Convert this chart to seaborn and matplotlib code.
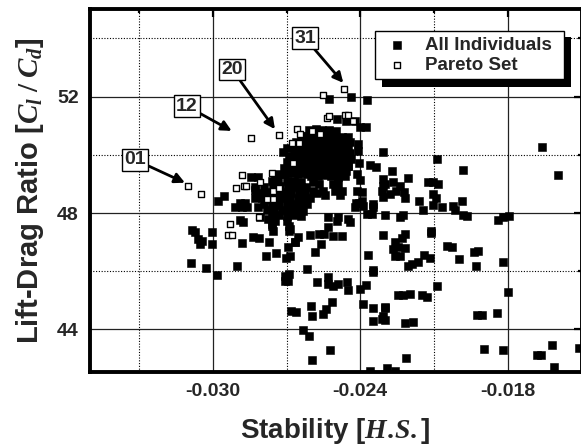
import matplotlib
matplotlib.use("Agg")
import matplotlib.pyplot as plt
from matplotlib.patches import Rectangle
from matplotlib.ticker import FixedLocator
import seaborn as sns
import pandas as pd

# ---------------- data ----------------
scatter_x = [
    -0.01660, -0.01594, -0.02308, -0.02086, -0.01981, -0.02272, -0.02204, -0.02306, -0.02306, -0.02312,
    -0.02265, -0.02238, -0.02254, -0.02222, -0.02218, -0.02123, -0.02103, -0.02082, -0.02103, -0.02092,
    -0.02105, -0.02161, -0.02143, -0.02066, -0.02024, -0.02014, -0.01987, -0.01983, -0.01964, -0.02299,
    -0.02238, -0.02227, -0.01838, -0.01818, -0.01797, -0.02113,
    -0.02308, -0.02218, -0.02231, -0.02258, -0.02265, -0.02258, -0.02238, -0.02245, -0.02218, -0.02113,
    -0.02204, -0.02190, -0.02164, -0.02140, -0.02116, -0.02048, -0.02028, -0.01997, -0.01937, -0.01920,
    -0.01930, -0.01818, -0.02089, -0.01800, -0.02245, -0.02225, -0.02197, -0.02150, -0.02129, -0.02299,
    -0.02306, -0.02299, -0.02218, -0.02184, -0.01926, -0.01906, -0.01842, -0.01896, -0.01818, -0.01621,
    -0.01682, -0.01666, -0.01611, -0.01509, -0.02214, -0.02292, -0.02258,
    -0.03004, -0.03004, -0.03045, -0.02882, -0.02835, -0.02810, -0.02771, -0.02760, -0.02688, -0.02688,
    -0.02652, -0.02665, -0.02604, -0.02566, -0.02547, -0.02509, -0.02475, -0.02530, -0.02561, -0.02584,
    -0.02783, -0.02742, -0.02702, -0.02686, -0.02367, -0.03027, -0.02981, -0.02900, -0.02706, -0.02692,
    -0.02706, -0.02688, -0.02618, -0.02577, -0.02530, -0.02530, -0.02509, -0.02489, -0.02455, -0.02448,
    -0.02401, -0.02376, -0.02349, -0.02349, -0.02683, -0.02661, -0.02601, -0.02597, -0.02539, -0.02553,
    -0.02516, -0.02387, -0.02347, -0.02299, -0.02347, -0.02312, -0.02634, -0.02607, -0.02523, -0.02597,
    -0.02360,
    -0.02526, -0.02439, -0.02374, -0.02496, -0.02458, -0.02421, -0.02401, -0.02376, -0.02408, -0.02408,
    -0.02404, -0.02360, -0.02336, -0.02412, -0.02401, -0.02299, -0.02394, -0.02404, -0.02417, -0.02713,
    -0.02699, -0.02706, -0.02747, -0.02638, -0.02618, -0.02591, -0.02566, -0.02550, -0.02591, -0.02509,
    -0.02489, -0.02475, -0.02502, -0.02462, -0.02448, -0.02374, -0.02347, -0.02489, -0.02448, -0.02441,
    -0.02620, -0.02604, -0.02577, -0.02543, -0.02482, -0.02414, -0.02394, -0.02421, -0.02387, -0.02353,
    -0.02530, -0.02496, -0.02306, -0.02279, -0.02347,
    -0.02977, -0.02953, -0.02909, -0.02889, -0.02869, -0.02862, -0.02882, -0.02844, -0.02814, -0.02817,
    -0.02889, -0.02876, -0.03085, -0.03072, -0.03059, -0.03052, -0.02808, -0.02774, -0.02760, -0.02747,
    -0.02699, -0.02686, -0.02828, -0.02821, -0.03087, -0.02666, -0.02694, -0.02755,
]
scatter_y = [
    50.27, 49.31, 50.11, 49.87, 49.47, 49.45, 49.22, 49.16, 48.93, 48.76,
    49.05, 48.93, 48.76, 48.73, 48.50, 49.05, 49.08, 49.01, 48.67, 48.51,
    48.27, 48.40, 48.10, 48.19, 48.25, 48.11, 48.42, 47.94, 47.91, 47.94,
    47.87, 47.94, 47.76, 47.85, 47.91, 47.39,
    47.25, 47.28, 47.13, 46.99, 46.77, 46.54, 46.54, 46.82, 46.79, 47.31,
    46.17, 46.25, 46.33, 46.56, 46.44, 46.86, 46.82, 46.42, 46.65, 46.71,
    46.17, 46.31, 45.48, 45.30, 45.20, 45.17, 45.22, 45.19, 45.11, 44.77,
    44.46, 44.31, 44.23, 44.25, 44.51, 44.51, 44.56, 43.34, 43.28, 43.48,
    43.14, 43.11, 42.71, 43.36, 43.02, 42.68, 42.56,
    47.36, 46.94, 47.05, 46.97, 47.16, 47.13, 47.02, 47.54, 47.39, 47.56,
    47.16, 47.02, 47.25, 47.28, 47.28, 47.20, 47.20, 47.51, 46.94, 46.67,
    46.51, 46.63, 46.44, 46.51, 46.56, 46.12, 45.88, 46.19, 45.85, 45.68,
    45.68, 45.91, 46.08, 45.62, 45.79, 45.57, 45.51, 45.57, 45.62, 45.37,
    45.40, 45.53, 45.97, 46.06, 44.65, 44.59, 44.82, 44.48, 44.71, 44.54,
    44.96, 44.88, 44.73, 44.73, 44.28, 44.37, 43.97, 43.76, 43.31, 42.94,
    42.56,
    51.90, 51.98, 51.87, 51.22, 51.16, 51.16, 50.96, 50.96, 50.36, 50.13,
    49.73, 49.65, 49.59, 49.34, 49.13, 48.99, 48.71, 48.36, 48.33, 50.08,
    50.25, 49.34, 49.24, 49.39, 49.34, 49.05, 48.99, 48.76, 48.76, 48.99,
    49.01, 48.76, 48.76, 49.28, 49.62, 47.97, 48.19, 47.85, 47.79, 47.68,
    48.88, 48.53, 48.70, 48.62, 48.62, 48.76, 48.42, 48.20, 48.25, 47.97,
    47.85, 47.74, 48.56, 48.65, 48.30,
    48.40, 48.59, 48.22, 48.36, 48.36, 48.19, 48.19, 49.24, 49.24, 48.19,
    47.76, 47.68, 47.42, 47.34, 47.11, 46.94, 47.85, 47.79, 47.62, 47.74,
    47.74, 47.45, 48.79, 48.65, 46.27, 47.00, 46.82, 47.39,
]

main_x = [
    -0.02610, -0.02582, -0.02555, -0.02528, -0.02500,
    -0.02640, -0.02612, -0.02585, -0.02557, -0.02530, -0.02502, -0.02475, -0.02450,
    -0.02662, -0.02635, -0.02607, -0.02580, -0.02552, -0.02525, -0.02497, -0.02470, -0.02443,
    -0.02668, -0.02640, -0.02612, -0.02585, -0.02557, -0.02530, -0.02502, -0.02475, -0.02448,
    -0.02660, -0.02632, -0.02605, -0.02577, -0.02550, -0.02522, -0.02495, -0.02467, -0.02440,
    -0.02655, -0.02627, -0.02600, -0.02572, -0.02545, -0.02517, -0.02490, -0.02462, -0.02437,
    -0.02640, -0.02612, -0.02585, -0.02557, -0.02530, -0.02502, -0.02475, -0.02450,
    -0.02625, -0.02597, -0.02570, -0.02542, -0.02515, -0.02487, -0.02460,
    -0.02600, -0.02572, -0.02545, -0.02517, -0.02490,
    -0.02690, -0.02665, -0.02700, -0.02675, -0.02650,
    -0.02710, -0.02685, -0.02660, -0.02635, -0.02730, -0.02680, -0.02655,
]
main_y = [
    50.85, 50.87, 50.84, 50.86, 50.80,
    50.65, 50.66, 50.63, 50.66, 50.64, 50.65, 50.62, 50.60,
    50.45, 50.46, 50.44, 50.45, 50.47, 50.44, 50.46, 50.43, 50.45,
    50.25, 50.26, 50.24, 50.25, 50.27, 50.24, 50.26, 50.23, 50.25,
    50.05, 50.06, 50.04, 50.05, 50.07, 50.04, 50.06, 50.03, 50.05,
    49.85, 49.86, 49.84, 49.85, 49.87, 49.84, 49.86, 49.83, 49.85,
    49.65, 49.66, 49.64, 49.65, 49.67, 49.64, 49.66, 49.63,
    49.45, 49.46, 49.44, 49.45, 49.47, 49.44, 49.46,
    49.28, 49.26, 49.29, 49.27, 49.25,
    49.95, 49.96, 49.75, 49.76, 49.74,
    49.55, 49.56, 49.54, 49.57, 49.35, 49.36, 49.34,
]

left_x = [
    -0.02760, -0.02735, -0.02700, -0.02670, -0.02640,
    -0.02830, -0.02790, -0.02755, -0.02725, -0.02695, -0.02665, -0.02640,
    -0.02800, -0.02770, -0.02740, -0.02710, -0.02680, -0.02650, -0.02625,
    -0.02830, -0.02800, -0.02770, -0.02740, -0.02712, -0.02684, -0.02655, -0.02628,
    -0.02790, -0.02760, -0.02730, -0.02700, -0.02672, -0.02645, -0.02618,
    -0.02780, -0.02750, -0.02720, -0.02690, -0.02660, -0.02632,
    -0.02760, -0.02730, -0.02700, -0.02668, -0.02640,
]
left_y = [
    49.10, 49.12, 49.09, 49.11, 49.08,
    48.90, 48.91, 48.89, 48.92, 48.90, 48.88, 48.91,
    48.70, 48.71, 48.69, 48.72, 48.70, 48.68, 48.71,
    48.50, 48.51, 48.49, 48.52, 48.50, 48.48, 48.51, 48.49,
    48.30, 48.31, 48.29, 48.32, 48.30, 48.28, 48.31,
    48.10, 48.11, 48.09, 48.12, 48.10, 48.08,
    47.92, 47.93, 47.91, 47.94, 47.90,
]

pareto_x = [
    -0.03099, -0.03049, -0.02938, -0.02921, -0.02930, -0.02905, -0.02872, -0.02863, -0.02882, -0.02808,
    -0.02810, -0.02760, -0.02756, -0.02729, -0.02756, -0.02780, -0.02845, -0.02729, -0.02672, -0.02679,
    -0.02648, -0.02658, -0.02645, -0.02596, -0.02563, -0.02553, -0.02466, -0.02536, -0.02527, -0.02462,
    -0.02449, -0.02431,
]
pareto_y = [
    48.93, 48.65, 47.25, 47.26, 47.62, 48.86, 48.93, 48.93, 49.31, 49.07,
    47.85, 49.36, 48.74, 48.86, 48.47, 48.47, 50.57, 50.67, 49.73, 50.42,
    50.42, 50.88, 50.71, 50.82, 50.73, 52.05, 52.25, 51.27, 51.33, 51.36,
    51.36, 51.16,
]

label_names = ["01", "12", "20", "31"]
label_tip_x = [-0.03113, -0.02923, -0.02747, -0.02469]
label_tip_y = [49.04, 50.82, 50.88, 52.47]
label_box_x = [-0.03316, -0.03105, -0.02921, -0.02625]
label_box_y = [49.83, 51.67, 52.93, 54.01]

x_major = [-0.030, -0.024, -0.018]
x_minor = [-0.033, -0.027, -0.021]
x_tick_labels = ["-0.030", "-0.024", "-0.018"]
y_major = [44, 48, 52]
y_minor = [46, 50, 54]
y_tick_labels = ["44", "48", "52"]

# ---------------- figure ----------------
sns.set_style("white")
plt.rcParams.update({
    "font.family": ["Liberation Sans", "DejaVu Sans"],
    "font.weight": "bold",
    "axes.unicode_minus": False,
    "mathtext.fontset": "custom",
    "mathtext.it": "Liberation Serif:italic",
    "mathtext.rm": "Liberation Serif",
    "mathtext.bf": "Liberation Serif:bold",
})

df_all = pd.DataFrame({"x": scatter_x + main_x + left_x, "y": scatter_y + main_y + left_y})
df_par = pd.DataFrame({"x": pareto_x, "y": pareto_y})

fig = plt.figure(figsize=(5.81, 4.45), dpi=100)
ax = fig.add_axes([0.1546, 0.1647, 0.8463, 0.8146])

sns.scatterplot(data=df_all, x="x", y="y", ax=ax, marker="s", s=29, color="black",
                edgecolor="black", linewidth=0.4, label="All Individuals", zorder=3)
sns.scatterplot(data=df_par, x="x", y="y", ax=ax, marker="s", s=24, color="white",
                edgecolor="black", linewidth=1.0, label="Pareto Set", zorder=4)

ax.set_xlim(-0.035, -0.015)
ax.set_ylim(42.55, 55.0)

ax.xaxis.set_major_locator(FixedLocator(x_major))
ax.xaxis.set_minor_locator(FixedLocator(x_minor))
ax.set_xticklabels(x_tick_labels)
ax.yaxis.set_major_locator(FixedLocator(y_major))
ax.yaxis.set_minor_locator(FixedLocator(y_minor))
ax.set_yticklabels(y_tick_labels)

ax.set_axisbelow(True)
ax.grid(which="major", color="#222222", linewidth=0.9, linestyle="-", zorder=0)
ax.grid(which="minor", color="black", linewidth=0.8, linestyle=(0, (1, 1.5)), zorder=0)

for sp in ax.spines.values():
    sp.set_linewidth(2.8)
    sp.set_color("black")
    sp.set_visible(True)

ax.tick_params(which="both", direction="in", top=True, right=True, color="black")
ax.tick_params(which="major", length=6, width=1.6, labelsize=14, pad=8)
ax.tick_params(which="minor", length=3, width=1.6)
for lab in ax.get_xticklabels() + ax.get_yticklabels():
    lab.set_fontweight("bold")

ax.set_xlabel(r"Stability [$\mathit{H.\!S.}$]", fontsize=20, fontweight="bold", labelpad=12)
ax.set_ylabel(r"Lift-Drag Ratio [$C_l\;/\;C_d$]", fontsize=21, fontweight="bold", labelpad=8)

for name, tx, ty, bx, by in zip(label_names, label_tip_x, label_tip_y, label_box_x, label_box_y):
    ax.annotate(name, xy=(tx, ty), xytext=(bx, by), textcoords="data",
                fontsize=14, fontweight="bold", ha="center", va="center", zorder=6,
                bbox=dict(boxstyle="square,pad=0.12", facecolor="white", edgecolor="black", linewidth=1.0),
                arrowprops=dict(arrowstyle="-|>", color="black", lw=2.0, mutation_scale=15,
                                shrinkA=0, shrinkB=0))

# legend box placed to match the reference (axes-fraction corners)
leg_box = (0.580, 0.8047, 0.9644 - 0.580, 0.9426 - 0.8047)   # x0, y0, w, h
shadow_dx, shadow_dy = 7 / 491.7, 7 / 362.5

# black drop shadow under the legend
ax.add_patch(Rectangle((leg_box[0] + shadow_dx, leg_box[1] - shadow_dy), leg_box[2], leg_box[3],
                       transform=ax.transAxes, facecolor="black", edgecolor="black",
                       linewidth=0, zorder=20, clip_on=False))

leg = ax.legend(loc="center", bbox_to_anchor=leg_box, mode="expand", borderaxespad=0,
                fancybox=False, frameon=True, facecolor="white", edgecolor="black", framealpha=1,
                prop={"family": "Liberation Sans", "weight": "bold", "size": 13.5},
                markerscale=1.0, handlelength=1.75, handletextpad=0.6,
                borderpad=0.3, labelspacing=0.15)
leg.get_frame().set_linewidth(1.0)
leg.set_zorder(30)

fig.savefig("out.png", dpi=100)
